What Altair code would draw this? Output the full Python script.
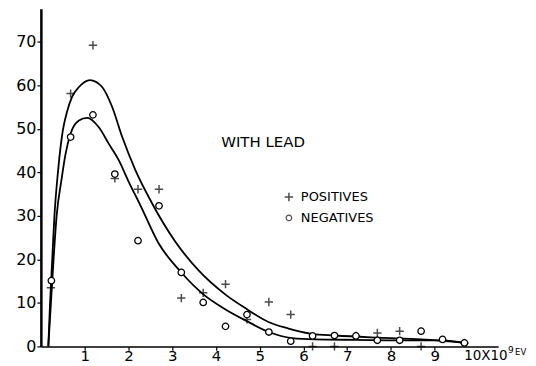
import altair as alt
import pandas as pd

# ---- data ----
pos_x = [0.23, 0.68, 1.19, 1.69, 2.22, 2.70, 3.21, 3.71, 4.22, 4.71, 5.21, 5.71,
         6.21, 6.71, 7.20, 7.69, 8.20, 8.69, 9.68]
pos_y = [13.5, 58.1, 69.2, 38.6, 36.1, 36.1, 11.1, 12.3, 14.3, 6.2, 10.2, 7.3,
         0.0, 0.0, 2.4, 3.1, 3.5, 0.0, 0.8]

neg_x = [0.24, 0.68, 1.19, 1.69, 2.22, 2.70, 3.21, 3.71, 4.22, 4.71, 5.21, 5.71,
         6.21, 6.71, 7.20, 7.69, 8.20, 8.69, 9.18, 9.68]
neg_y = [15.1, 48.1, 53.2, 39.6, 24.3, 32.3, 17.0, 10.1, 4.6, 7.3, 3.3, 1.2,
         2.4, 2.5, 2.4, 1.4, 1.4, 3.5, 1.6, 0.8]

# fitted curves (traced)
cpos_x = [0.17, 0.21, 0.26, 0.31, 0.39, 0.50, 0.60, 0.71, 0.87, 1.12, 1.40, 1.63,
          1.86, 2.16, 2.54, 3.07, 3.61, 4.22, 4.67, 5.20, 5.66, 6.19, 6.73, 7.72,
          8.70, 9.70]
cpos_y = [0.0, 10.0, 20.0, 30.0, 40.0, 49.5, 54.0, 57.3, 59.6, 61.2, 59.6, 55.0,
          48.1, 40.5, 32.9, 24.1, 17.4, 11.9, 8.8, 5.6, 4.1, 2.9, 2.5, 2.0,
          1.6, 0.8]

cneg_x = [0.17, 0.23, 0.29, 0.36, 0.47, 0.56, 0.68, 0.87, 1.06, 1.32, 1.55, 1.78,
          2.00, 2.28, 2.69, 3.19, 3.72, 4.22, 4.71, 5.21, 5.74, 6.27, 7.20, 8.20,
          9.18, 9.70]
cneg_y = [0.0, 10.0, 20.0, 30.0, 38.2, 44.0, 48.9, 51.9, 52.5, 50.4, 46.6, 42.8,
          38.0, 32.3, 23.7, 17.2, 11.9, 8.5, 5.8, 3.3, 1.9, 1.6, 1.5, 1.4,
          1.4, 0.8]

x_ticks = [1, 2, 3, 4, 5, 6, 7, 8, 9]
y_ticks = [0, 10, 20, 30, 40, 50, 60, 70]

FONT = "DejaVu Sans"
PLUS = "M-1,0L1,0M0,-1L0,1"

pos_df = pd.DataFrame({"x": pos_x, "y": pos_y})
neg_df = pd.DataFrame({"x": neg_x, "y": neg_y})
cpos_df = pd.DataFrame({"x": cpos_x, "y": cpos_y})
cneg_df = pd.DataFrame({"x": cneg_x, "y": cneg_y})

xs = alt.Scale(domain=[0, 10.45], nice=False, zero=False)
ys = alt.Scale(domain=[0, 77.6], nice=False, zero=False)

X = alt.X("x:Q", scale=xs, axis=alt.Axis(
    values=x_ticks, title=None, grid=False, domainColor="black", domainWidth=1.5,
    tickColor="black", tickSize=4, tickWidth=1.2, labelFont=FONT, labelFontSize=15,
    labelColor="black", labelPadding=-2, labelFlush=False))
Y = alt.Y("y:Q", scale=ys, axis=alt.Axis(
    values=y_ticks, title=None, grid=False, domainColor="black", domainWidth=2.5,
    tickColor="black", tickSize=4, tickWidth=1.2, labelFont=FONT, labelFontSize=16,
    labelColor="black", labelPadding=1, labelFlush=False))

curve_pos = alt.Chart(cpos_df).mark_line(color="black", strokeWidth=1.8,
                                         interpolate="monotone").encode(x=X, y=Y)
curve_neg = alt.Chart(cneg_df).mark_line(color="black", strokeWidth=1.8,
                                         interpolate="monotone").encode(x="x:Q", y="y:Q")

pts_pos = alt.Chart(pos_df).mark_point(shape=PLUS, filled=False, stroke="black",
                                       strokeWidth=1.5, size=70).encode(x="x:Q", y="y:Q")
pts_neg = alt.Chart(neg_df).mark_point(shape="circle", filled=True, fill="white",
                                       stroke="black", strokeWidth=1.3, size=42,
                                       opacity=1).encode(x="x:Q", y="y:Q")

def txt(s, px, py, size=14, align="left"):
    return alt.Chart(pd.DataFrame({"t": [s]})).mark_text(
        font=FONT, fontSize=size, align=align, baseline="middle", color="black"
    ).encode(text="t:N", x=alt.value(px - 41), y=alt.value(py - 8))

with_lead = txt("WITH LEAD", 222, 142, 15)
lab_pos = txt("POSITIVES", 302, 197, 13)
lab_neg = txt("NEGATIVES", 302, 218, 13)
xunit = txt("10X10", 466, 357, 13.5)
xsup = txt("9", 510, 351, 9)
xev = txt("EV", 517, 353, 8.5)

leg_plus = alt.Chart(pd.DataFrame({"a": [0]})).mark_point(
    shape=PLUS, filled=False, stroke="black", strokeWidth=1.5, size=70
).encode(x=alt.value(290 - 41), y=alt.value(197 - 8))
leg_circ = alt.Chart(pd.DataFrame({"a": [0]})).mark_point(
    shape="circle", filled=True, fill="white", stroke="black", strokeWidth=1.2, size=30
).encode(x=alt.value(290 - 41), y=alt.value(218 - 8))

chart = alt.layer(
    curve_pos, curve_neg, pts_pos, pts_neg, with_lead, lab_pos, lab_neg,
    leg_plus, leg_circ, xunit, xsup, xev
).properties(
    width=459, height=339,
    autosize=alt.AutoSizeParams(type="none"),
    padding={"left": 33, "top": 0, "right": 30, "bottom": 19},
    background="white",
).configure_view(stroke=None)

chart.save("out.html", embed_options={"renderer": "svg", "actions": False})
